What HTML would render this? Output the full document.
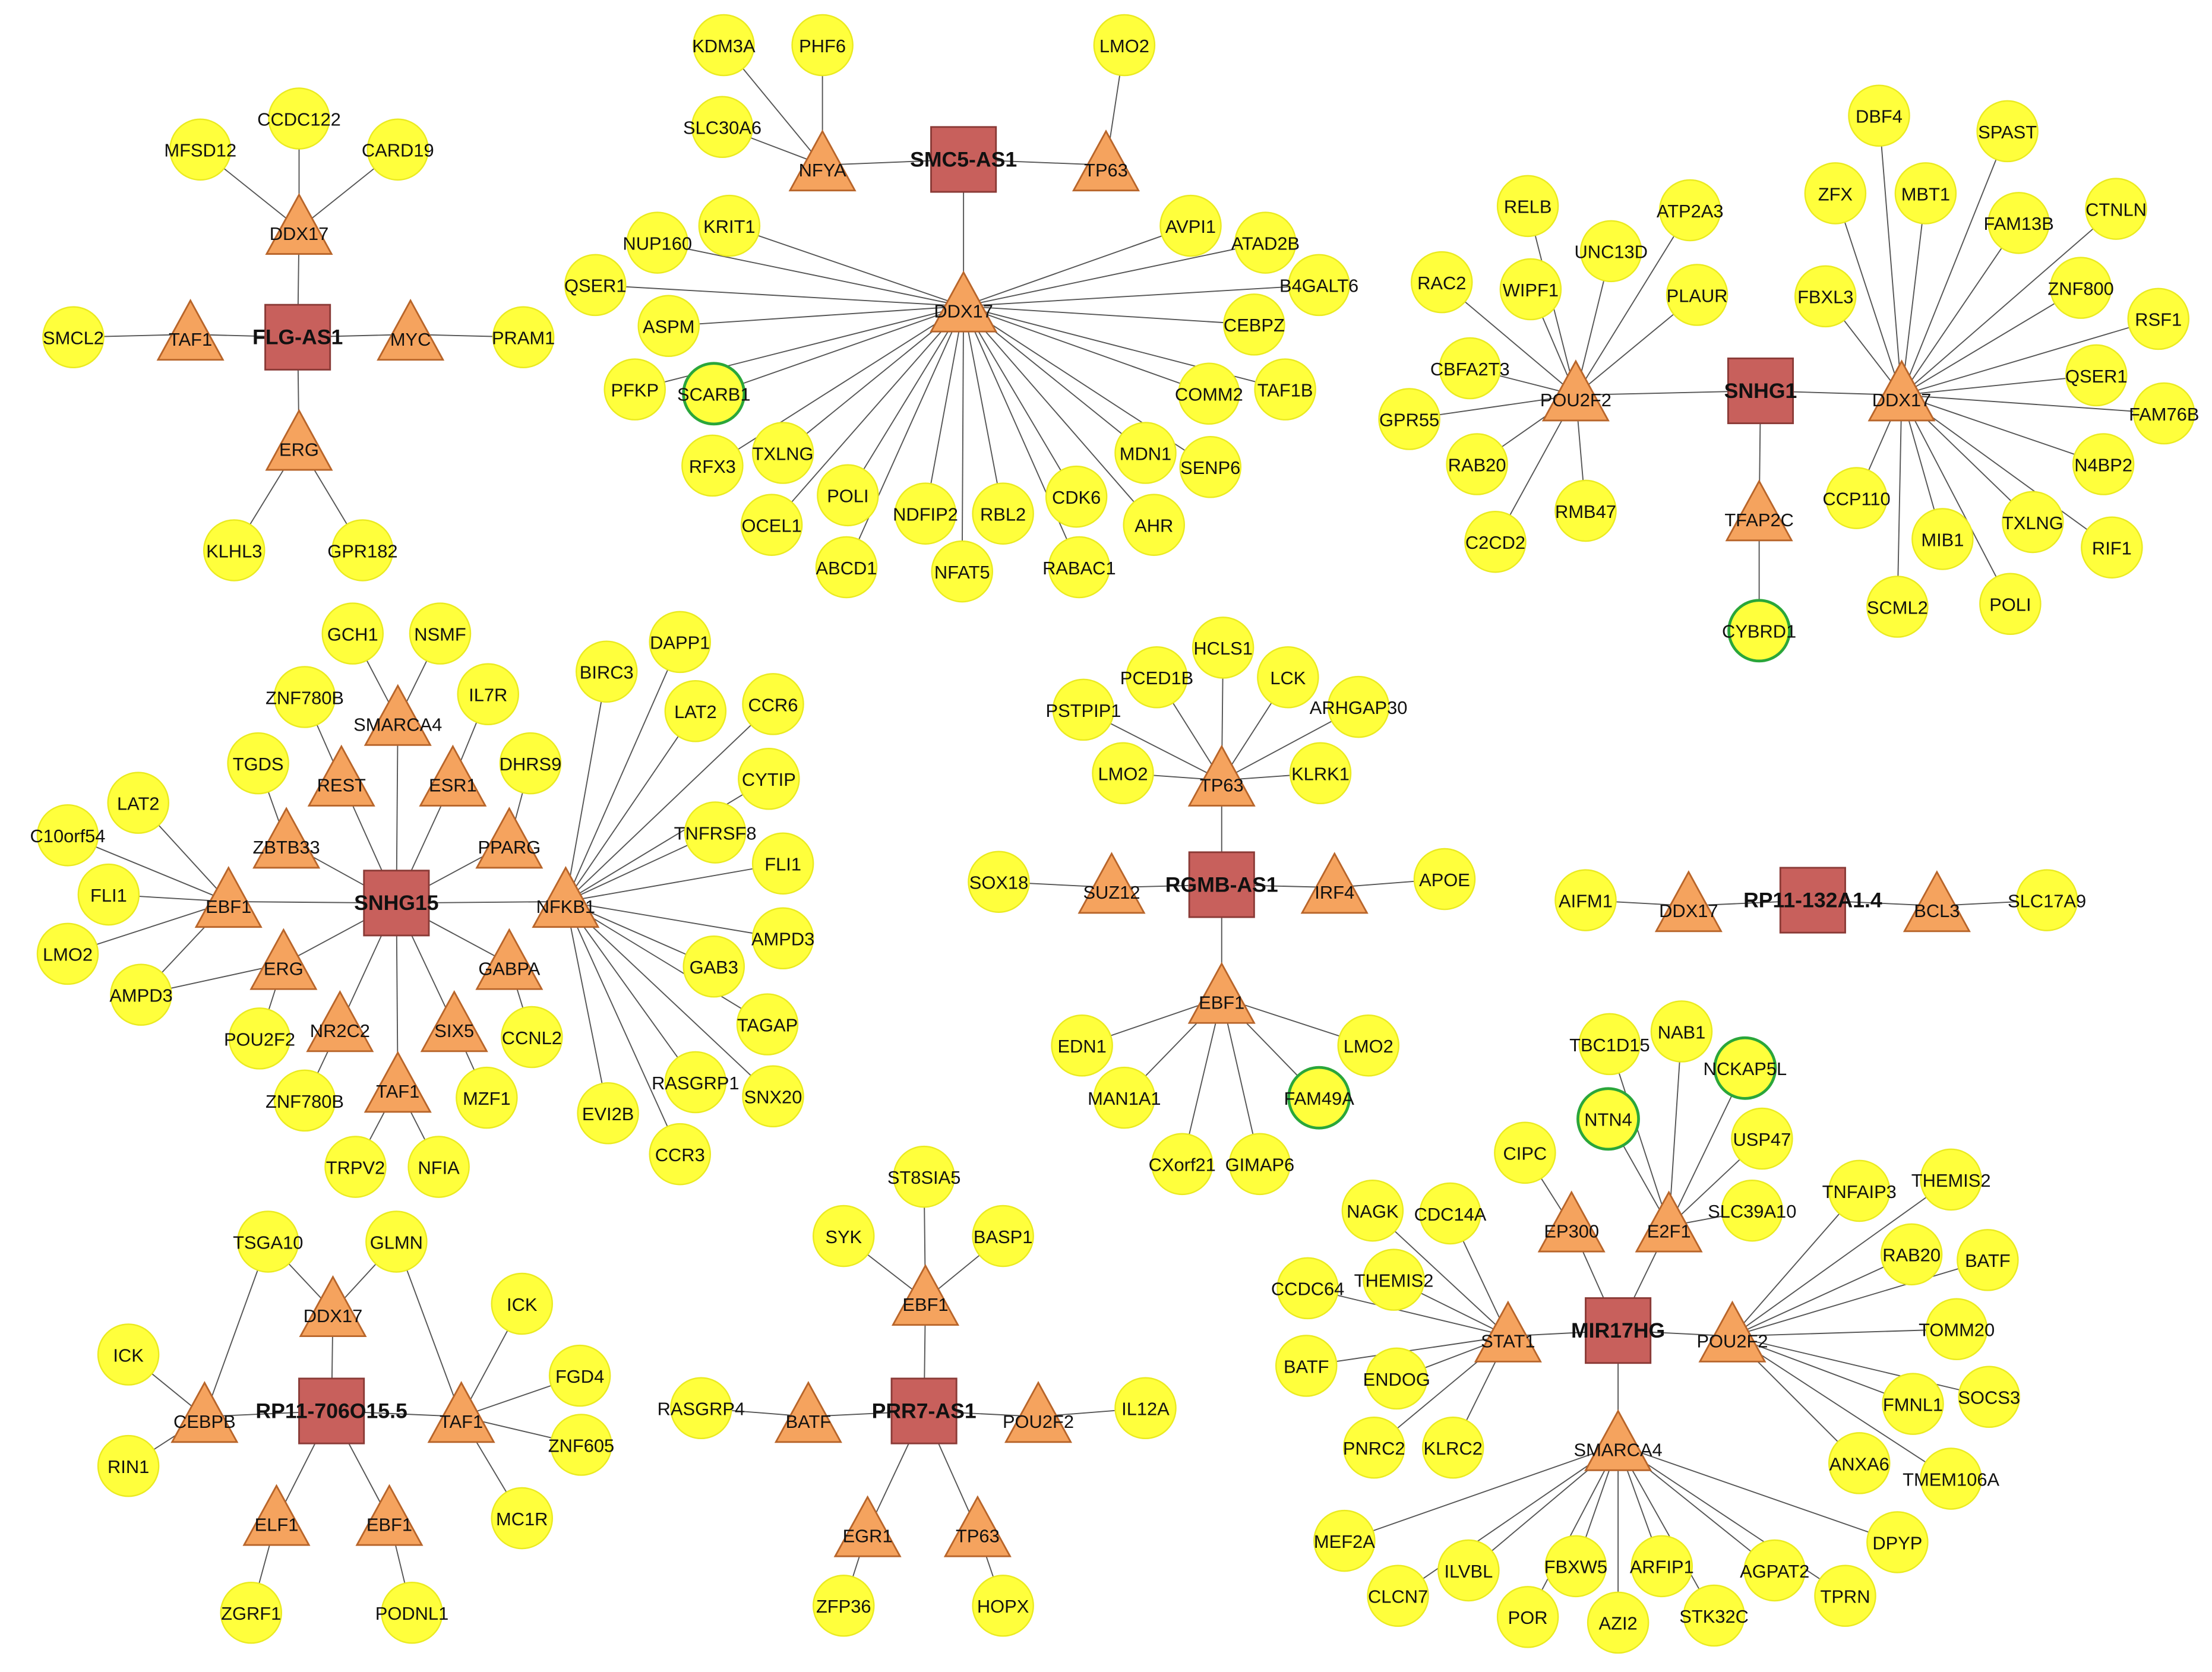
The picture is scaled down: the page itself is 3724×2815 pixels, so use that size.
<!DOCTYPE html>
<html><head><meta charset="utf-8"><style>
html,body{margin:0;padding:0;background:#fff}
svg{display:block}
text{font-family:"Liberation Sans",sans-serif;font-size:13px;fill:#111;text-anchor:middle}
.b{font-weight:bold;font-size:15px}
</style></head><body>
<svg id="s" width="3724" height="2815" viewBox="0 0 1568 1185" preserveAspectRatio="none" xmlns="http://www.w3.org/2000/svg">
<g id="e" stroke="#555" stroke-width="0.8"></g><g id="n"></g>
</svg>
<script>
var N=[],E=[];
function C(x,y,l,g){N.push({t:g?'g':'c',x:x,y:y,l:l});return N.length-1}
function T(x,y,l){N.push({t:'t',x:x,y:y,l:l});return N.length-1}
function S(x,y,l){N.push({t:'s',x:x,y:y,l:l});return N.length-1}
function L(a,arr){arr.forEach(function(b){E.push([a,b])})}
var s,a,b,c,d,f;
// FLG-AS1
s=S(211,239,'FLG-AS1');a=T(212,165,'DDX17');b=T(135,240,'TAF1');c=T(291,240,'MYC');d=T(212,318,'ERG');
L(s,[a,b,c,d]);L(a,[C(142,106,'MFSD12'),C(212,84,'CCDC122'),C(282,106,'CARD19')]);
L(b,[C(52,239,'SMCL2')]);L(c,[C(371,239,'PRAM1')]);L(d,[C(166,390,'KLHL3'),C(257,390,'GPR182')]);
// SMC5-AS1
s=S(683,113,'SMC5-AS1');a=T(583,120,'NFYA');b=T(784,120,'TP63');c=T(683,220,'DDX17');L(s,[a,b,c]);
L(a,[C(513,32,'KDM3A'),C(583,32,'PHF6'),C(512,90,'SLC30A6')]);L(b,[C(797,32,'LMO2')]);
L(c,[C(466,172,'NUP160'),C(517,160,'KRIT1'),C(422,202,'QSER1'),C(474,231,'ASPM'),C(450,276,'PFKP'),C(506,279,'SCARB1',1),C(505,330,'RFX3'),C(555,321,'TXLNG'),C(547,372,'OCEL1'),C(601,351,'POLI'),C(600,402,'ABCD1'),C(656,364,'NDFIP2'),C(682,405,'NFAT5'),C(711,364,'RBL2'),C(765,402,'RABAC1'),C(763,352,'CDK6'),C(818,372,'AHR'),C(812,321,'MDN1'),C(858,331,'SENP6'),C(857,279,'COMM2'),C(911,276,'TAF1B'),C(889,230,'CEBPZ'),C(935,202,'B4GALT6'),C(897,172,'ATAD2B'),C(844,160,'AVPI1')]);
// SNHG1
s=S(1248,277,'SNHG1');a=T(1117,283,'POU2F2');b=T(1348,283,'DDX17');c=T(1247,368,'TFAP2C');L(s,[a,b,c]);
L(c,[C(1247,447,'CYBRD1',1)]);
L(a,[C(1083,146,'RELB'),C(1142,178,'UNC13D'),C(1198,149,'ATP2A3'),C(1203,209,'PLAUR'),C(1085,205,'WIPF1'),C(1022,200,'RAC2'),C(1042,261,'CBFA2T3'),C(999,297,'GPR55'),C(1047,329,'RAB20'),C(1060,384,'C2CD2'),C(1124,362,'RMB47')]);
L(b,[C(1332,82,'DBF4'),C(1423,93,'SPAST'),C(1301,137,'ZFX'),C(1365,137,'MBT1'),C(1431,158,'FAM13B'),C(1500,148,'CTNLN'),C(1294,210,'FBXL3'),C(1475,204,'ZNF800'),C(1530,226,'RSF1'),C(1486,266,'QSER1'),C(1534,293,'FAM76B'),C(1491,329,'N4BP2'),C(1497,388,'RIF1'),C(1441,370,'TXLNG'),C(1425,428,'POLI'),C(1377,382,'MIB1'),C(1345,430,'SCML2'),C(1316,353,'CCP110')]);
// SNHG15
s=S(281,640,'SNHG15');
var sm=T(282,513,'SMARCA4'),re=T(242,556,'REST'),es=T(321,556,'ESR1'),zb=T(203,600,'ZBTB33'),pp=T(361,600,'PPARG'),eb=T(162,642,'EBF1'),er=T(201,686,'ERG'),nr=T(241,730,'NR2C2'),ta=T(282,773,'TAF1'),si=T(322,730,'SIX5'),ga=T(361,686,'GABPA'),nf=T(401,642,'NFKB1');
L(s,[sm,re,es,zb,pp,eb,er,nr,ta,si,ga,nf]);
L(sm,[C(250,449,'GCH1'),C(312,449,'NSMF')]);L(re,[C(216,494,'ZNF780B')]);L(es,[C(346,492,'IL7R')]);
L(zb,[C(183,541,'TGDS')]);L(pp,[C(376,541,'DHRS9')]);
var am=C(100,705,'AMPD3');
L(eb,[C(98,569,'LAT2'),C(48,592,'C10orf54'),C(77,634,'FLI1'),C(48,676,'LMO2'),am]);
L(er,[am,C(184,736,'POU2F2')]);L(nr,[C(216,780,'ZNF780B')]);L(ta,[C(252,827,'TRPV2'),C(311,827,'NFIA')]);
L(si,[C(345,778,'MZF1')]);L(ga,[C(377,735,'CCNL2')]);
L(nf,[C(430,476,'BIRC3'),C(482,455,'DAPP1'),C(493,504,'LAT2'),C(548,499,'CCR6'),C(545,552,'CYTIP'),C(507,590,'TNFRSF8'),C(555,612,'FLI1'),C(555,665,'AMPD3'),C(506,685,'GAB3'),C(544,726,'TAGAP'),C(548,777,'SNX20'),C(493,767,'RASGRP1'),C(482,818,'CCR3'),C(431,789,'EVI2B')]);
// RGMB-AS1
s=S(866,627,'RGMB-AS1');a=T(866,556,'TP63');b=T(788,632,'SUZ12');c=T(946,632,'IRF4');d=T(866,710,'EBF1');L(s,[a,b,c,d]);
L(a,[C(867,459,'HCLS1'),C(820,480,'PCED1B'),C(913,480,'LCK'),C(768,503,'PSTPIP1'),C(963,501,'ARHGAP30'),C(796,548,'LMO2'),C(936,548,'KLRK1')]);
L(b,[C(708,625,'SOX18')]);L(c,[C(1024,623,'APOE')]);
L(d,[C(767,741,'EDN1'),C(970,741,'LMO2'),C(797,778,'MAN1A1'),C(935,778,'FAM49A',1),C(838,825,'CXorf21'),C(893,825,'GIMAP6')]);
// RP11-132A1.4
s=S(1285,638,'RP11-132A1.4');a=T(1197,645,'DDX17');b=T(1373,645,'BCL3');L(s,[a,b]);
L(a,[C(1124,638,'AIFM1')]);L(b,[C(1451,638,'SLC17A9')]);
// MIR17HG
s=S(1147,943,'MIR17HG');a=T(1183,872,'E2F1');b=T(1114,872,'EP300');c=T(1069,950,'STAT1');d=T(1228,950,'POU2F2');f=T(1147,1027,'SMARCA4');L(s,[a,b,c,d,f]);
L(a,[C(1141,740,'TBC1D15'),C(1192,731,'NAB1'),C(1237,757,'NCKAP5L',1),C(1140,793,'NTN4',1),C(1249,807,'USP47'),C(1242,858,'SLC39A10')]);
L(b,[C(1081,817,'CIPC')]);
L(c,[C(973,858,'NAGK'),C(1028,860,'CDC14A'),C(927,913,'CCDC64'),C(988,907,'THEMIS2'),C(926,968,'BATF'),C(990,977,'ENDOG'),C(974,1026,'PNRC2'),C(1030,1026,'KLRC2')]);
L(d,[C(1318,844,'TNFAIP3'),C(1383,836,'THEMIS2'),C(1355,889,'RAB20'),C(1409,893,'BATF'),C(1387,942,'TOMM20'),C(1410,990,'SOCS3'),C(1356,995,'FMNL1'),C(1318,1037,'ANXA6'),C(1383,1048,'TMEM106A')]);
L(f,[C(953,1092,'MEF2A'),C(991,1131,'CLCN7'),C(1041,1113,'ILVBL'),C(1083,1146,'POR'),C(1117,1110,'FBXW5'),C(1147,1150,'AZI2'),C(1178,1110,'ARFIP1'),C(1215,1145,'STK32C'),C(1258,1113,'AGPAT2'),C(1308,1131,'TPRN'),C(1345,1093,'DPYP')]);
// RP11-706O15.5
s=S(235,1000,'RP11-706O15.5');a=T(236,932,'DDX17');b=T(145,1007,'CEBPB');c=T(327,1007,'TAF1');d=T(196,1080,'ELF1');f=T(276,1080,'EBF1');L(s,[a,b,c,d,f]);
var ts=C(190,880,'TSGA10'),gl=C(281,880,'GLMN');
L(a,[ts,gl]);L(b,[ts,C(91,960,'ICK'),C(91,1039,'RIN1')]);
L(c,[gl,C(370,924,'ICK'),C(411,975,'FGD4'),C(412,1024,'ZNF605'),C(370,1076,'MC1R')]);
L(d,[C(178,1143,'ZGRF1')]);L(f,[C(292,1143,'PODNL1')]);
// PRR7-AS1
s=S(655,1000,'PRR7-AS1');a=T(656,924,'EBF1');b=T(573,1007,'BATF');c=T(736,1007,'POU2F2');d=T(615,1088,'EGR1');f=T(693,1088,'TP63');L(s,[a,b,c,d,f]);
L(a,[C(655,834,'ST8SIA5'),C(598,876,'SYK'),C(711,876,'BASP1')]);L(b,[C(497,998,'RASGRP4')]);L(c,[C(812,998,'IL12A')]);
L(d,[C(598,1138,'ZFP36')]);L(f,[C(711,1138,'HOPX')]);
// render
var eh='',nh='';
function cy(n){return n.t=='t'?n.y-3:n.y}
E.forEach(function(e){var p=N[e[0]],q=N[e[1]];eh+='<line x1="'+p.x+'" y1="'+cy(p)+'" x2="'+q.x+'" y2="'+cy(q)+'"/>'});
N.forEach(function(n){
 if(n.t=='s'){nh+='<rect x="'+(n.x-23)+'" y="'+(n.y-23)+'" width="46" height="46" fill="#c8605c" stroke="#8a3a36" stroke-width="1.2"/><text class="b" x="'+n.x+'" y="'+(n.y+5)+'">'+n.l+'</text>';}
 else if(n.t=='t'){nh+='<polygon points="'+n.x+','+(n.y-27)+' '+(n.x-23)+','+(n.y+15)+' '+(n.x+23)+','+(n.y+15)+'" fill="#f5a35e" stroke="#b8652a" stroke-width="1.2"/><text x="'+n.x+'" y="'+(n.y+5)+'">'+n.l+'</text>';}
 else{nh+='<circle cx="'+n.x+'" cy="'+n.y+'" r="21.5" fill="#ffff3c" stroke="'+(n.t=='g'?'#2aa63a':'#eaea20')+'" stroke-width="'+(n.t=='g'?2:1)+'"/><text x="'+n.x+'" y="'+(n.y+5)+'">'+n.l+'</text>';}
});
document.getElementById('e').innerHTML=eh;document.getElementById('n').innerHTML=nh;
</script>
</body></html>
